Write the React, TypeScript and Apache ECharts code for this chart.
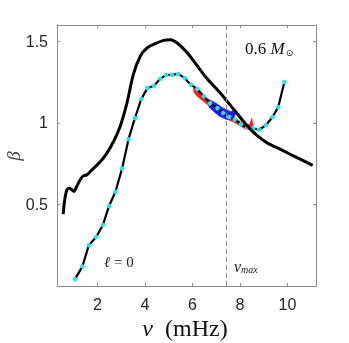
import React, { useEffect, useRef } from "react";
import * as echarts from "echarts";

// Upper black curve (no markers)
const topNu = [0.56, 0.6, 0.65, 0.72, 0.82, 0.92, 1.01, 1.13, 1.27, 1.41, 1.55, 1.76, 2.11, 2.4, 2.68, 2.96, 3.24, 3.52, 3.81, 4.09, 4.44, 4.79, 5.07, 5.36, 5.78, 6.2, 6.62, 7.19, 7.75, 8.32, 8.74, 9.16, 9.73, 10.29, 11.06];
const topBeta = [0.44, 0.5, 0.55, 0.59, 0.6, 0.59, 0.58, 0.61, 0.65, 0.675, 0.68, 0.71, 0.76, 0.815, 0.886, 0.98, 1.12, 1.3, 1.41, 1.46, 1.486, 1.506, 1.51, 1.49, 1.43, 1.35, 1.27, 1.18, 1.08, 0.98, 0.92, 0.876, 0.836, 0.795, 0.74];

// Lower curve with cyan markers (l = 0 modes)
const modeNu = [1.06, 1.37, 1.64, 1.95, 2.23, 2.49, 2.76, 3.04, 3.31, 3.58, 3.85, 4.11, 4.38, 4.65, 4.89, 5.14, 5.4, 5.67, 5.93, 6.2, 6.48, 6.74, 7.05, 7.29, 7.54, 7.78, 8.04, 8.3, 8.55, 8.8, 9.09, 9.37, 9.61, 9.87];
const modeBeta = [0.042, 0.12, 0.25, 0.3, 0.374, 0.49, 0.578, 0.72, 0.9, 1.03, 1.147, 1.214, 1.228, 1.27, 1.294, 1.294, 1.3, 1.275, 1.234, 1.208, 1.163, 1.12, 1.09, 1.06, 1.036, 1.02, 0.992, 0.971, 0.966, 0.958, 0.985, 1.036, 1.097, 1.251];

// Shaded observational bands (polygon outlines)
const redNu = [6.05, 6.3, 6.6, 7.0, 7.4, 7.8, 8.1, 8.4, 8.5, 8.55, 8.45, 8.15, 7.8, 7.4, 7.0, 6.6, 6.3, 6.15, 6.05];
const redBeta = [1.215, 1.19, 1.15, 1.1, 1.06, 1.03, 1.0, 0.99, 1.03, 0.985, 0.955, 0.968, 1.0, 1.025, 1.06, 1.115, 1.15, 1.17, 1.19];
const blueNu = [6.68, 7.0, 7.3, 7.6, 7.72, 7.8, 7.75, 7.45, 7.13, 6.85, 6.7];
const blueBeta = [1.145, 1.12, 1.09, 1.07, 1.075, 1.055, 1.03, 1.02, 1.04, 1.075, 1.095];

const nuMax = 7.43;
const xTicks = [2, 4, 6, 8, 10];
const yTicks = [0.5, 1, 1.5];

const zip = (a: number[], b: number[]) => a.map((v, i) => [v, b[i]]);

function polygonSeries(xs: number[], ys: number[], color: string) {
  const pts = zip(xs, ys);
  return {
    type: "custom",
    coordinateSystem: "cartesian2d",
    xAxisIndex: 0,
    yAxisIndex: 0,
    data: [[xs[0], ys[0]]],
    renderItem: (_p: any, api: any) => ({
      type: "polygon",
      shape: { points: pts.map((p) => api.coord(p)) },
      style: { fill: color, stroke: color, lineWidth: 0.5 },
    }),
    z: 2,
  };
}

export default function App() {
  const ref = useRef<HTMLDivElement>(null);
  useEffect(() => {
    const chart = echarts.init(ref.current!, null, { renderer: "svg" });
    const axisColor = "#8a8a8a";
    const labelStyle = { color: "#262626", fontSize: 16, fontFamily: "Liberation Sans, Arial, sans-serif" };
    const xBase = {
      type: "value",
      min: 0.3,
      max: 11.2,
      splitLine: { show: false },
      axisLine: { show: true, onZero: false, lineStyle: { color: axisColor, width: 1 } },
      axisTick: { show: true, inside: true, length: 3, customValues: xTicks, lineStyle: { color: axisColor } },
    };
    const yBase = {
      type: "value",
      min: 0,
      max: 1.6,
      splitLine: { show: false },
      axisLine: { show: true, onZero: false, lineStyle: { color: axisColor, width: 1 } },
      axisTick: { show: true, inside: true, length: 3, customValues: yTicks, lineStyle: { color: axisColor } },
    };
    chart.setOption({
      animation: false,
      grid: { left: 57, right: 33, top: 25, bottom: 57, containLabel: false, outerBoundsMode: "none" },
      xAxis: [
        { ...xBase, position: "bottom", axisLabel: { ...labelStyle, margin: 10, customValues: xTicks } },
        { ...xBase, position: "top", axisLabel: { show: false } },
      ],
      yAxis: [
        { ...yBase, position: "left", axisLabel: { ...labelStyle, margin: 9, customValues: yTicks } },
        { ...yBase, position: "right", axisLabel: { show: false } },
      ],
      series: [
        polygonSeries(redNu, redBeta, "#ff1a1a"),
        polygonSeries(blueNu, blueBeta, "#1a1aff"),
        {
          type: "line",
          data: zip(modeNu, modeBeta),
          symbol: "circle",
          symbolSize: 4.5,
          showSymbol: true,
          lineStyle: { color: "#000", width: 2.2 },
          itemStyle: { color: "#1de3f2", borderWidth: 0 },
          z: 3,
          markLine: {
            silent: true,
            symbol: "none",
            label: { show: false },
            lineStyle: { color: "#8c8c8c", type: [5, 3], width: 1 },
            data: [{ xAxis: nuMax }],
          },
        },
        {
          type: "line",
          data: zip(topNu, topBeta),
          symbol: "none",
          smooth: 0.3,
          lineStyle: { color: "#000", width: 3 },
          z: 4,
        },
      ],
      graphic: [
        {
          type: "group",
          x: 13,
          y: 156,
          rotation: Math.PI / 2,
          children: [
            {
              type: "text",
              x: 0,
              y: 0,
              style: {
                text: "β",
                align: "center",
                verticalAlign: "middle",
                fontFamily: "Liberation Serif, serif",
                fontStyle: "italic",
                fontSize: 19,
                fill: "#444",
              },
            },
          ],
        },
        {
          type: "text",
          left: 245,
          top: 40,
          style: {
            text: "{n|0.6 }{m|M}{s|⊙}",
            rich: {
              n: { fontFamily: "Liberation Serif, serif", fontSize: 17, fill: "#111" },
              m: { fontFamily: "Liberation Serif, serif", fontSize: 17, fontStyle: "italic", fill: "#111" },
              s: { fontFamily: "DejaVu Sans, sans-serif", fontSize: 9, fill: "#111", padding: [8, 0, 0, 1] },
            },
          },
        },
        {
          type: "text",
          left: 104,
          top: 254,
          style: {
            text: "{l|ℓ}{e| = 0}",
            rich: {
              l: { fontFamily: "Liberation Serif, DejaVu Serif, serif", fontSize: 15, fontStyle: "italic", fill: "#222" },
              e: { fontFamily: "Liberation Serif, serif", fontSize: 15, fill: "#222" },
            },
          },
        },
        {
          type: "text",
          left: 234,
          top: 258,
          style: {
            text: "{v|ν}{s|max}",
            rich: {
              v: { fontFamily: "Liberation Serif, serif", fontSize: 16, fontStyle: "italic", fill: "#222" },
              s: { fontFamily: "Liberation Serif, serif", fontSize: 10, fontStyle: "italic", fill: "#222", padding: [7, 0, 0, 0] },
            },
          },
        },
        {
          type: "text",
          x: 185,
          y: 328,
          style: {
            text: "{v|ν}{t|  (mHz)}",
            align: "center",
            verticalAlign: "middle",
            rich: {
              v: { fontFamily: "Liberation Serif, serif", fontSize: 24, fontStyle: "italic", fill: "#111" },
              t: { fontFamily: "Liberation Serif, serif", fontSize: 24, fill: "#111" },
            },
          },
        },
      ],
    });
    return () => chart.dispose();
  }, []);
  return <div ref={ref} style={{ position: "fixed", left: 0, top: 0, width: 349, height: 343 }} />;
}
